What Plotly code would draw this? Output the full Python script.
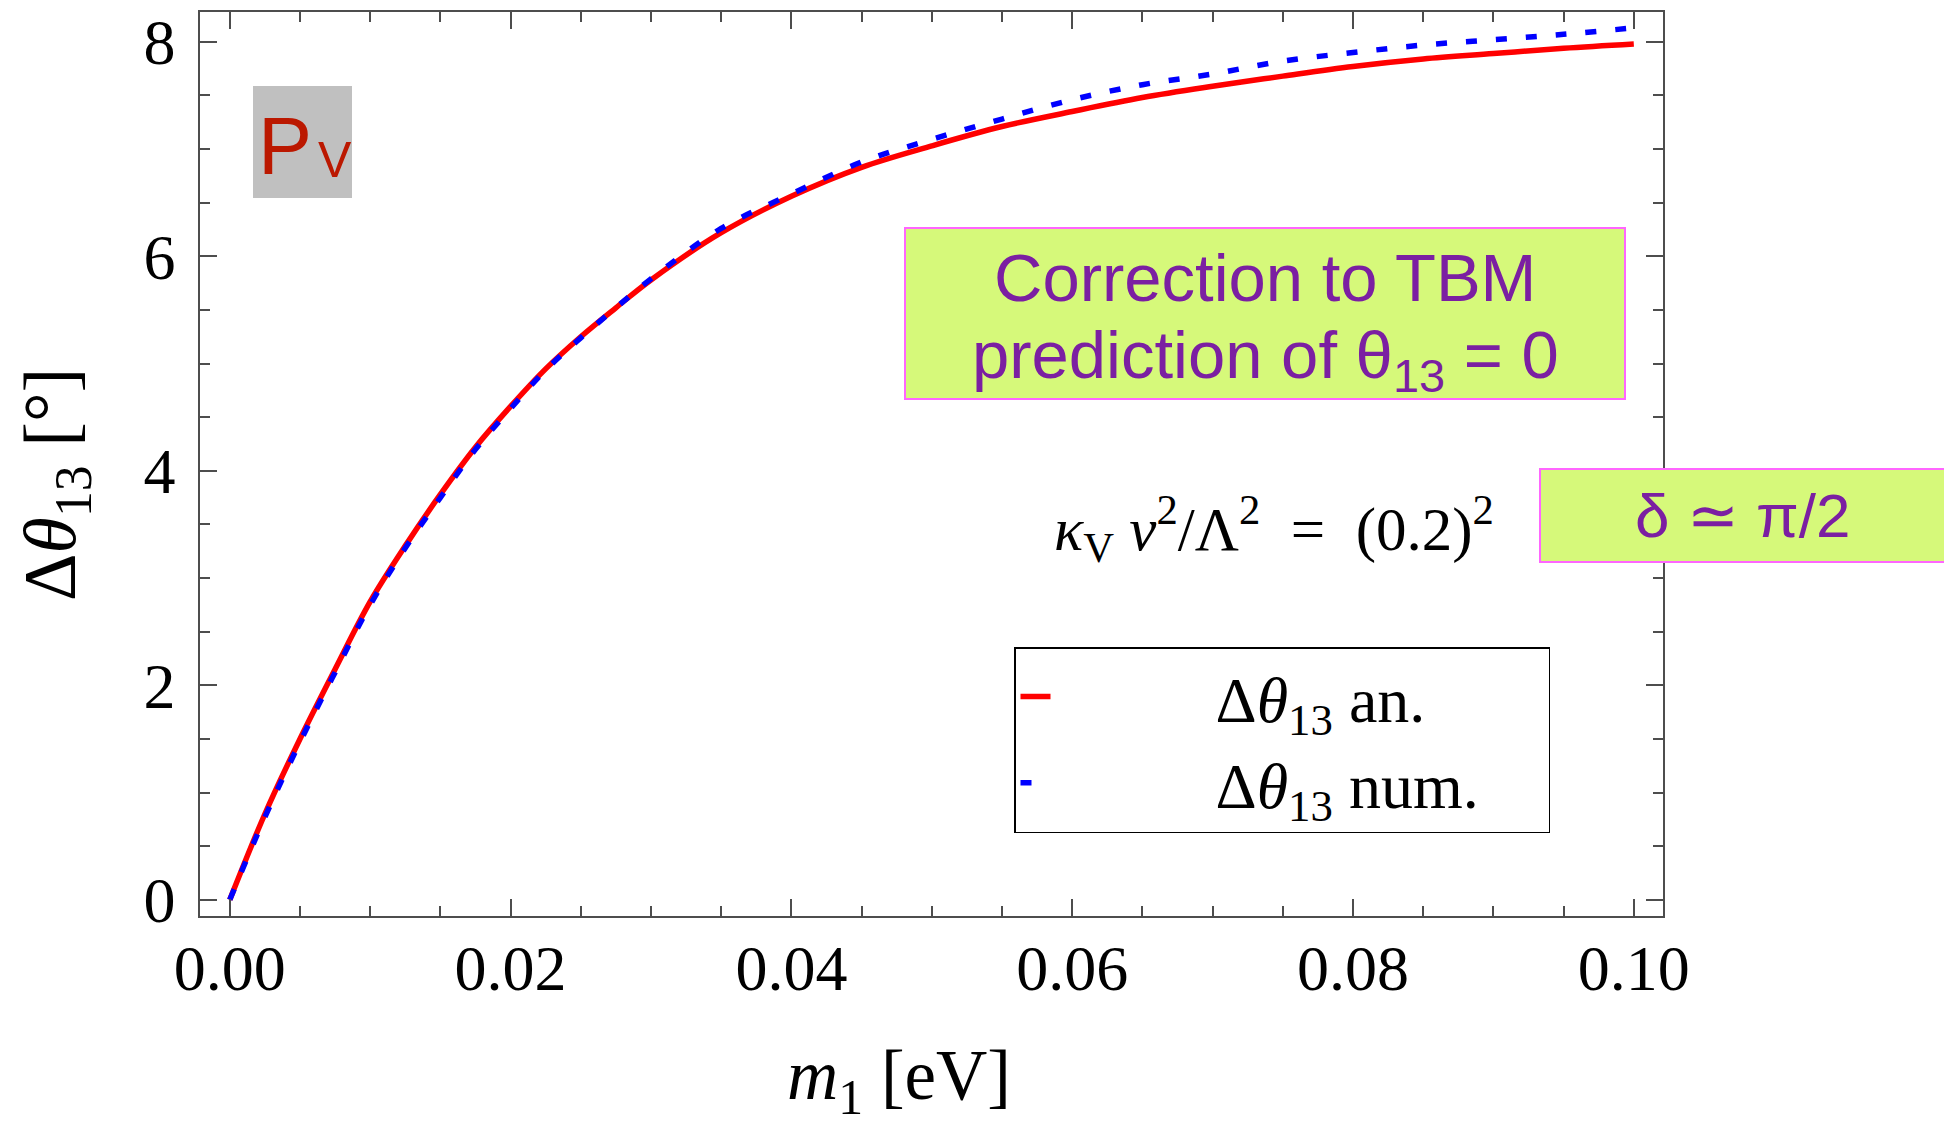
import plotly.graph_objects as go

# ---- data ----
m1 = [0.0, 0.0025, 0.005, 0.0075, 0.01, 0.0125, 0.015, 0.0175, 0.02, 0.0225,
      0.025, 0.0275, 0.03, 0.035, 0.04, 0.045, 0.05, 0.055, 0.06, 0.065,
      0.07, 0.075, 0.08, 0.085, 0.09, 0.095, 0.1]
dtheta_an = [0.0, 0.80, 1.50, 2.15, 2.78, 3.30, 3.78, 4.22, 4.60, 4.95,
             5.25, 5.52, 5.78, 6.22, 6.56, 6.83, 7.03, 7.21, 7.35, 7.48,
             7.585, 7.68, 7.77, 7.84, 7.89, 7.94, 7.98]
dtheta_num = [0.0, 0.77, 1.47, 2.12, 2.75, 3.28, 3.75, 4.20, 4.58, 4.94,
              5.24, 5.52, 5.79, 6.26, 6.58, 6.88, 7.09, 7.28, 7.46, 7.60,
              7.70, 7.82, 7.90, 7.97, 8.02, 8.07, 8.13]
x_ticks = [0.0, 0.02, 0.04, 0.06, 0.08, 0.10]
y_ticks = [0, 2, 4, 6, 8]

W, H = 1944, 1127
L, R, T, B = 200, 281, 12, 211
PW, PH = W - L - R, H - T - B

def px(x):  # pixel -> paper x
    return (x - L) / PW

def py(y):  # pixel -> paper y
    return (H - B - y) / PH

SERIF = "Liberation Serif"
SANS = "Liberation Sans"
AXC = "#4d4d4d"
PURPLE = "#7B1FA2"
NB = "\u00a0"

fig = go.Figure()
fig.add_trace(go.Scatter(
    x=m1, y=dtheta_an, mode="lines", line_shape="spline",
    line=dict(color="#FF0000", width=5.5),
    name=NB * 10 + "Δ<i>θ</i><sub>13</sub> an."))
fig.add_trace(go.Scatter(
    x=m1, y=dtheta_num, mode="lines", line_shape="spline",
    line=dict(color="#0000FF", width=5.5, dash="11px,19px"),
    name=NB * 10 + "Δ<i>θ</i><sub>13</sub> num." + NB * 4))

axis_common = dict(
    showline=True, linecolor=AXC, linewidth=1.5, mirror="allticks",
    ticks="inside", tickcolor=AXC, tickwidth=1.5, ticklen=17,
    showgrid=False, zeroline=False,
    tickfont=dict(family=SERIF, size=64, color="black"),
)

fig.update_xaxes(
    **axis_common,
    range=[-0.00212, 0.10208], tickvals=x_ticks, tickformat=".2f",
    minor=dict(dtick=0.005, tick0=0, ticks="inside", ticklen=10,
               tickcolor=AXC, tickwidth=1.5, showgrid=False),
    ticklabelstandoff=-5,
)
fig.update_yaxes(
    **axis_common,
    range=[-0.151, 8.278], tickvals=y_ticks,
    minor=dict(dtick=0.5, tick0=0, ticks="inside", ticklen=10,
               tickcolor=AXC, tickwidth=1.5, showgrid=False),
    ticklabelstandoff=10,
)

shapes = [
    # gray P_V box
    dict(type="rect", xref="paper", yref="paper",
         x0=px(253), x1=px(352), y0=py(198), y1=py(86),
         fillcolor="#C0C0C0", line=dict(width=0), layer="above"),
    # green box 1
    dict(type="rect", xref="paper", yref="paper",
         x0=px(905), x1=px(1625), y0=py(399), y1=py(228),
         fillcolor="#D6F97A", line=dict(color="#FF66FF", width=2), layer="above"),
    # green box 2 (runs past the right edge)
    dict(type="rect", xref="paper", yref="paper",
         x0=px(1540), x1=px(1990), y0=py(562), y1=py(469),
         fillcolor="#D6F97A", line=dict(color="#FF66FF", width=2), layer="above"),
]

def ann(text, x, y, font, **kw):
    d = dict(text=text, x=px(x), y=py(y), xref="paper", yref="paper",
             showarrow=False, xanchor="center", yanchor="middle", font=font,
             borderpad=0)
    d.update(kw)
    return d

annotations = [
    # axis titles
    ann("<i>m</i><sub>1</sub> [eV]", 899, 1080,
        dict(family=SERIF, size=71, color="black")),
    ann("Δ<i>θ</i><sub>13</sub> [°]", 56, 485,
        dict(family=SERIF, size=74, color="black"), textangle=-90),
    # P_V label
    ann("P", 257, 146, dict(family=SANS, size=81, color="#BB1800"), xanchor="left"),
    ann("V", 317, 160, dict(family=SANS, size=50, color="#BB1800"), xanchor="left"),
    # green box texts
    ann("Correction to TBM", 1265, 277, dict(family=SANS, size=67, color=PURPLE)),
    ann("prediction of θ<sub>13</sub> = 0", 1265, 359, dict(family=SANS, size=67, color=PURPLE)),
    ann("δ ≃ π/2", 1742, 515, dict(family=SANS, size=62, color=PURPLE)),
    # parameter text
    ann("<i>κ</i><sub>V</sub> <i>v</i><sup>2</sup>/Λ<sup>2</sup>" + NB * 2 + "=" + NB * 2 + "(0.2)<sup>2</sup>",
        1274, 529, dict(family=SERIF, size=61, color="black")),
]

fig.update_layout(
    width=W, height=H,
    margin=dict(l=L, r=R, t=T, b=B, autoexpand=False),
    paper_bgcolor="white", plot_bgcolor="white",
    shapes=shapes, annotations=annotations,
    showlegend=True,
    legend=dict(x=px(1014), y=py(647), xanchor="left", yanchor="top",
                bgcolor="white", bordercolor="black", borderwidth=1.5,
                font=dict(family=SERIF, size=64, color="black"),
                itemwidth=30, tracegroupgap=0),
)

fig.write_html("out.html",
               config={"displayModeBar": False},
               post_script="document.body.style.margin='0px';document.body.style.overflow='hidden';")
